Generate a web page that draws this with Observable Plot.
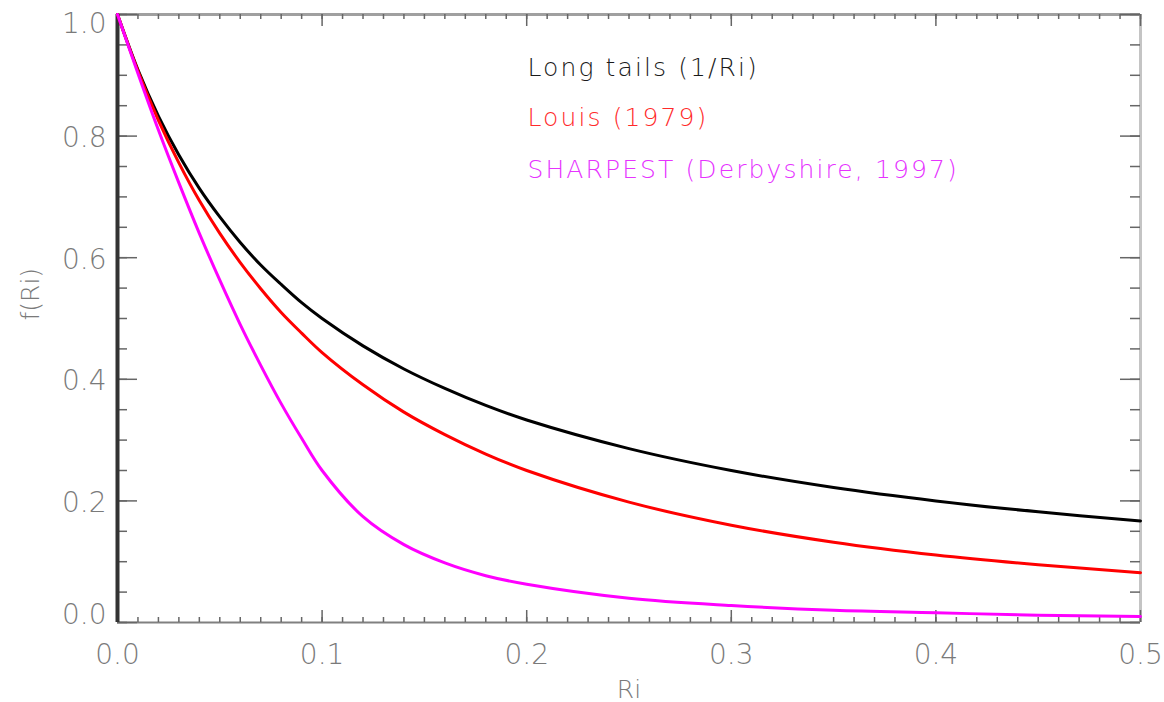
<!DOCTYPE html>
<html>
<head>
<meta charset="utf-8">
<script src="https://cdn.jsdelivr.net/npm/d3@7"></script>
<script src="https://cdn.jsdelivr.net/npm/@observablehq/plot@0.6"></script>
<style>
  html, body { margin: 0; padding: 0; background: #fff; }
  #chart svg { display: block; }
</style>
</head>
<body>
<div id="chart"></div>
<script>
// Richardson number samples (x values)
const ri = [0, 0.01, 0.02, 0.03, 0.04, 0.05, 0.06, 0.07, 0.08, 0.09, 0.10,
            0.12, 0.14, 0.16, 0.18, 0.20, 0.25, 0.30, 0.35, 0.40, 0.45, 0.50];
// Long tails (1/Ri) – black
const longTails = [1.000, 0.909, 0.833, 0.769, 0.714, 0.667, 0.625, 0.588, 0.556, 0.526, 0.500,
                   0.455, 0.417, 0.385, 0.357, 0.333, 0.286, 0.250, 0.222, 0.200, 0.182, 0.167];
// Louis (1979) – red
const louis = [1.000, 0.907, 0.826, 0.756, 0.694, 0.640, 0.592, 0.549, 0.510, 0.476, 0.444,
               0.391, 0.346, 0.309, 0.277, 0.250, 0.198, 0.160, 0.132, 0.111, 0.095, 0.082];
// SHARPEST (Derbyshire, 1997) – magenta
const sharpest = [1.000, 0.903, 0.810, 0.723, 0.640, 0.563, 0.490, 0.423, 0.360, 0.303, 0.250,
                  0.174, 0.128, 0.098, 0.077, 0.063, 0.040, 0.028, 0.020, 0.016, 0.012, 0.010];

const seriesNames = ["Long tails (1/Ri)", "Louis (1979)", "SHARPEST (Derbyshire, 1997)"];
const seriesColors = ["#000000", "#ff0000", "#ff00ff"];
const legendColors = ["#1a1a1a", "#ff2a2a", "#e633ff"];

const xTicks = [0.0, 0.1, 0.2, 0.3, 0.4, 0.5];
const yTicks = [0.0, 0.2, 0.4, 0.6, 0.8, 1.0];
const xMinor = d3.range(0, 51).map(i => i / 100);
const yMinor = d3.range(0, 21).map(i => i / 20);
const xLabel = "Ri";
const yLabel = "f(Ri)";

const rows = [];
[longTails, louis, sharpest].forEach((vals, s) => {
  vals.forEach((v, i) => rows.push({ri: ri[i], f: v, series: seriesNames[s]}));
});

const W = 1164, H = 702;
const mL = 117, mR = 24, mT = 14, mB = 80;
const fw = W - mL - mR, fh = H - mT - mB;
const font = "'DejaVu Sans', sans-serif";
const labelColor = "#7a7a7a";
const tickColor = "#666";

const fmt = d => d.toFixed(1);

const marks = [
  // frame
  Plot.ruleY([0], {stroke: "#808080", strokeWidth: 2}),
  Plot.ruleY([1], {stroke: "#a0a0a0", strokeWidth: 3}),
  Plot.ruleX([0.5], {stroke: "#c4c4c4", strokeWidth: 3}),
  // bottom ticks
  Plot.tickX(xMinor, {x: d => d, stroke: tickColor, strokeWidth: 1.5, insetTop: fh - 5}),
  Plot.tickX(xTicks, {x: d => d, stroke: tickColor, strokeWidth: 1.5, insetTop: fh - 12}),
  // top ticks
  Plot.tickX(xMinor, {x: d => d, stroke: tickColor, strokeWidth: 1.5, insetBottom: fh - 5}),
  Plot.tickX(xTicks, {x: d => d, stroke: tickColor, strokeWidth: 1.5, insetBottom: fh - 12}),
  // left ticks
  Plot.tickY(yMinor, {y: d => d, stroke: tickColor, strokeWidth: 1.5, insetRight: fw - 10}),
  Plot.tickY(yTicks, {y: d => d, stroke: tickColor, strokeWidth: 1.5, insetRight: fw - 20}),
  // right ticks
  Plot.tickY(yMinor, {y: d => d, stroke: tickColor, strokeWidth: 1.5, insetLeft: fw - 10}),
  Plot.tickY(yTicks, {y: d => d, stroke: tickColor, strokeWidth: 1.5, insetLeft: fw - 20}),
  Plot.ruleX([0], {stroke: "#333", strokeWidth: 4}),
  // tick labels
  Plot.axisX(xTicks, {anchor: "bottom", tickSize: 0, tickPadding: 22, tickFormat: fmt,
    fontSize: 28, fill: labelColor, label: null, fontFamily: font, fontWeight: 300}),
  Plot.axisY(yTicks.slice(1, -1), {anchor: "left", tickSize: 0, tickPadding: 11, tickFormat: fmt,
    fontSize: 28, fill: labelColor, label: null, dy: 2, fontFamily: font, fontWeight: 300}),
  Plot.axisY([1.0], {anchor: "left", tickSize: 0, tickPadding: 11, tickFormat: fmt,
    fontSize: 28, fill: labelColor, label: null, dy: 10, fontFamily: font, fontWeight: 300}),
  Plot.axisY([0.0], {anchor: "left", tickSize: 0, tickPadding: 11, tickFormat: fmt,
    fontSize: 28, fill: labelColor, label: null, dy: -7, fontFamily: font, fontWeight: 300}),
  // axis titles
  Plot.text([xLabel], {text: d => d, frameAnchor: "bottom", dy: 75, fontSize: 25,
    fill: labelColor, fontFamily: font, fontWeight: 300}),
  Plot.text([yLabel], {text: d => d, frameAnchor: "left", dx: -87, dy: 2, rotate: -90, fontSize: 25,
    fill: labelColor, fontFamily: font, fontWeight: 300}),
  // curves
  Plot.line(rows, {x: "ri", y: "f", z: "series", stroke: "series", strokeWidth: 3, curve: "catmull-rom"}),
  // legend (in-plot labels)
  ...seriesNames.map((name, i) => Plot.text([name], {
    text: d => d, frameAnchor: "top-left", textAnchor: "start", lineAnchor: "bottom",
    dx: 410, dy: [61, 111, 163][i], fontSize: 25, fill: legendColors[i],
    fontFamily: font, fontWeight: 300
  }))
];

const chart = Plot.plot({
  width: W, height: H,
  marginLeft: mL, marginRight: mR, marginTop: mT, marginBottom: mB,
  x: {domain: [0, 0.5], axis: null},
  y: {domain: [0, 1], axis: null},
  color: {domain: seriesNames, range: seriesColors},
  style: {fontFamily: font, background: "#fff"},
  marks
});
// widen the legend lettering like the original vector font
d3.select(chart).selectAll("text")
  .filter(function () { return seriesNames.includes(this.textContent); })
  .attr("letter-spacing", "2.1px");
document.getElementById("chart").appendChild(chart);
</script>
</body>
</html>
